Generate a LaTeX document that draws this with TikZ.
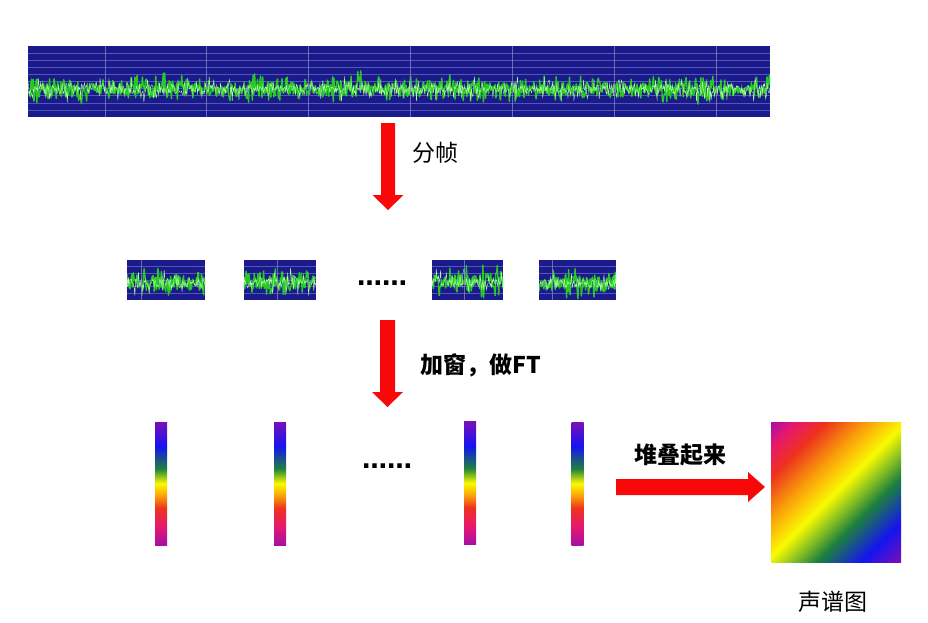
\documentclass[tikz,border=0pt]{standalone}
\usepackage{fontspec}
\newfontfamily\cjk{Noto Sans CJK SC}
\newfontfamily\dotfont{DejaVu Sans}
\usetikzlibrary{calc}
\definecolor{navy}{RGB}{26,26,138}
\definecolor{gridh}{RGB}{85,85,185}
\definecolor{gridv}{RGB}{140,140,200}
\definecolor{wgreen}{RGB}{40,200,40}
\definecolor{wlight}{RGB}{170,255,150}
\definecolor{arrred}{RGB}{248,8,8}
\definecolor{cpurpletop}{RGB}{120,16,184}
\definecolor{cblue}{RGB}{20,20,240}
\definecolor{cgreen}{RGB}{30,130,60}
\definecolor{cyg}{RGB}{150,200,30}
\definecolor{cyellow}{RGB}{250,250,0}
\definecolor{corange}{RGB}{250,160,10}
\definecolor{cred}{RGB}{238,50,30}
\definecolor{cpink}{RGB}{230,24,110}
\definecolor{cmag}{RGB}{165,16,165}
\pgfdeclareverticalshading{specbar}{100bp}{color(0bp)=(cmag); color(25bp)=(cmag); color(32.5bp)=(cpink); color(40bp)=(cred); color(45bp)=(corange); color(50bp)=(cyellow); color(56bp)=(cgreen); color(65bp)=(cblue); color(75bp)=(cpurpletop); color(100bp)=(cpurpletop)}
\pgfdeclarehorizontalshading{specsq}{100bp}{color(0bp)=(cmag); color(14.6bp)=(cmag); color(21bp)=(cpink); color(29bp)=(cred); color(40bp)=(corange); color(50bp)=(cyellow); color(56bp)=(cyg); color(63bp)=(cgreen); color(75bp)=(cblue); color(85.4bp)=(cpurpletop); color(100bp)=(cpurpletop)}
\tikzset{
  lbl/.style={font=\cjk\fontsize{23}{26}\selectfont, inner sep=0pt},
  lblb/.style={font=\cjk\bfseries\fontsize{23}{26}\selectfont, inner sep=0pt},
  dots/.style={font=\dotfont\bfseries\fontsize{25}{28}\selectfont, inner sep=0pt, anchor=base},
  specbarbox/.style={shade, shading=specbar, minimum width=12pt, minimum height=123pt, inner sep=0pt},
  blockarrow/.style={fill=arrred},
}
% #1 x1, #2 y1, #3 x2, #4 y2, #5 samples, #6 wave centre, #7 divisions
\newcommand\mywave[7]{%
  \fill[navy] (#1,#2) rectangle (#3,#4);
  \begin{scope}
    \clip (#1,#2) rectangle (#3,#4);
    \foreach \k in {1,...,#7}
      \draw[gridh, line width=0.6pt] (#1,{#2+\k*(#4-#2)/(#7+1)}) -- (#3,{#2+\k*(#4-#2)/(#7+1)});
    \draw[wgreen, line width=1.4pt, line join=round] plot[domain=#1:#3, samples=#5, variable=\x]
      (\x,{#6+rand*(7+12*pow(rnd,2))*(0.6+0.4*abs(sin(1.7*\x)))});
    \draw[wlight, line width=0.45pt] plot[domain=#1:#3, samples=#5, variable=\x]
      (\x,{#6+rand*(4+11*pow(rnd,3))});
  \end{scope}
}
\begin{document}
\begin{tikzpicture}[x=1pt, y=-1pt]
\useasboundingbox[fill=white] (0,0) rectangle (928,622);
\pgfmathsetseed{4242}
% ---- full signal ----
\node[inner sep=0, minimum width=742pt, minimum height=71pt] (sig) at (399,81.5) {};
\mywave{28}{46}{770}{117}{1000}{89}{9}
\foreach \vx in {105,206,308,410,512,614,716}
  \draw[gridv, line width=0.6pt, opacity=0.7] (\vx,46) -- (\vx,117);
% ---- arrow 1 ----
\coordinate (a1s) at (388,123);
\coordinate (a1e) at (388,210);
\fill[blockarrow] ($(a1s)+(-7,0)$) -- ($(a1s)+(7,0)$) -- ($(a1e)+(7,-15)$) -- ($(a1e)+(15.5,-15)$)
  -- (a1e) -- ($(a1e)+(-15.5,-15)$) -- ($(a1e)+(-7,-15)$) -- cycle;
\node[lbl] (t1) at (435,153) {分帧};
% ---- frames ----
\mywave{127}{260}{205}{300}{110}{283}{5}
\draw[gridv, line width=0.6pt, opacity=0.7] (141,260) -- (141,300);
\node[inner sep=0, minimum width=78pt, minimum height=40pt] (f1) at (166,280) {};
\mywave{244}{260}{316}{300}{100}{282}{5}
\draw[gridv, line width=0.6pt, opacity=0.7] (277,260) -- (277,300);
\node[inner sep=0, minimum width=72pt, minimum height=40pt] (f2) at (280,280) {};
\node[dots] (d1) at (382,285) {……};
\mywave{432}{260}{503}{300}{100}{282}{5}
\draw[gridv, line width=0.6pt, opacity=0.7] (464,260) -- (464,300);
\node[inner sep=0, minimum width=71pt, minimum height=40pt] (f3) at (467.5,280) {};
\mywave{539}{260}{616}{300}{110}{283}{5}
\draw[gridv, line width=0.6pt, opacity=0.7] (552,260) -- (552,300);
\node[inner sep=0, minimum width=77pt, minimum height=40pt] (f4) at (577.5,280) {};
% ---- arrow 2 ----
\coordinate (a2s) at (387.5,320);
\coordinate (a2e) at (387.5,407);
\fill[blockarrow] ($(a2s)+(-7.5,0)$) -- ($(a2s)+(7.5,0)$) -- ($(a2e)+(7.5,-15)$) -- ($(a2e)+(15.5,-15)$)
  -- (a2e) -- ($(a2e)+(-15.5,-15)$) -- ($(a2e)+(-7.5,-15)$) -- cycle;
\node[lblb] (t2) at (481,365) {加窗，做FT};
% ---- spectra ----
\node[specbarbox] (s1) at (161,483.5) {};
\node[specbarbox] (s2) at (280,483.5) {};
\node[dots] (d2) at (387,468) {……};
\node[specbarbox] (s3) at (470,483) {};
\node[specbarbox] (s4) at (577.5,483.5) {};
% ---- arrow 3 ----
\coordinate (a3s) at (616,487);
\coordinate (a3e) at (765,487);
\fill[blockarrow] ($(a3s)+(0,-8)$) -- ($(a3e)+(-17,-8)$) -- ($(a3e)+(-17,-15)$) -- (a3e)
  -- ($(a3e)+(-17,15)$) -- ($(a3e)+(-17,8)$) -- ($(a3s)+(0,8)$) -- cycle;
\node[lblb] (t3) at (680,455) {堆叠起来};
% ---- spectrogram ----
\node[shade, shading=specsq, shading angle=-45, minimum width=130pt, minimum height=140pt, inner sep=0pt] (spec) at (836,492) {};
\node[lbl] (t4) at (833,602) {声谱图};
\end{tikzpicture}
\end{document}
